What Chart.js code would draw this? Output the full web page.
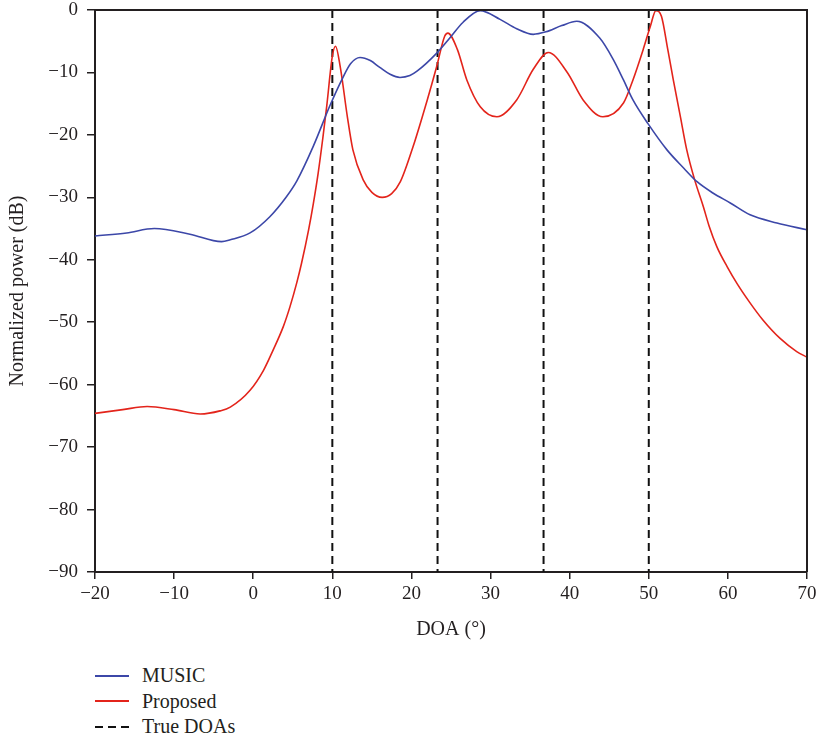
<!DOCTYPE html>
<html>
<head>
<meta charset="utf-8">
<script src="https://cdn.jsdelivr.net/npm/chart.js@4"></script>
<style>
  body { margin: 0; background: #fff; width: 818px; height: 735px; overflow: hidden; }
  #wrap { position: absolute; left: 0; top: 0; width: 818px; height: 650px; }
  #legend { position: absolute; left: 95px; top: 663px; font-family: "Liberation Serif", "DejaVu Serif", serif; font-size: 20px; color: #231f20; }
  .row { height: 25.5px; line-height: 25.5px; display: flex; align-items: center; }
  .swatch { width: 34px; height: 1.6px; margin-right: 13px; }
</style>
</head>
<body>
<div id="wrap"><canvas id="chart"></canvas></div>
<div id="legend"></div>
<script>
// angles (deg) and normalized power (dB)
const musicDeg = [-20, -16, -12.5, -8, -4, -2.9, -0.4, 2.1, 4.2, 5.5, 7.6, 9.7, 11.3, 12.3, 13.5, 14.8, 16.0, 17.3, 18.55, 19.8, 20.7, 23.2, 24.9, 26.5, 28.7, 31.2, 33.3, 35.4, 37, 39, 40.9, 43.8, 45.5, 46.8, 48.0, 49.9, 52.3, 54.4, 56.1, 58.1, 60.3, 62.8, 66.2, 70];
const musicDb = [-36.2, -35.7, -35.0, -35.9, -37.1, -36.8, -35.7, -33.1, -29.9, -27.4, -21.8, -15.3, -10.9, -8.6, -7.6, -8.1, -9.2, -10.3, -10.8, -10.5, -9.8, -6.9, -4.4, -2.0, -0.1, -1.5, -3.0, -3.9, -3.5, -2.5, -1.8, -4.5, -7.9, -11.2, -14.4, -18.2, -22.4, -25.3, -27.5, -29.3, -30.9, -32.8, -34.1, -35.2];

const proposedDeg = [-20, -16.5, -13.4, -10, -6.7, -4.2, -2.9, -0.4, 1.3, 2.5, 3.8, 4.65, 5.5, 6.1, 7.0, 7.6, 8.2, 8.8, 9.3, 10.0, 10.4, 11.0, 11.9, 12.6, 13.9, 15.0, 16.3, 17.5, 18.6, 20.2, 22.0, 23.2, 24.2, 24.6, 25.8, 27.0, 28.7, 30.8, 33.3, 35.4, 37.3, 39.7, 41.7, 44.2, 46.8, 48.0, 49.3, 50.2, 50.9, 51.6, 52.4, 53.1, 54.0, 54.8, 55.8, 56.9, 57.6, 58.6, 59.9, 61.2, 62.8, 64.4, 66.6, 68.7, 70];
const proposedDb = [-64.6, -64.0, -63.5, -64.0, -64.7, -64.2, -63.6, -60.9, -57.7, -54.5, -50.7, -47.5, -43.7, -40.6, -35.2, -31.0, -26.2, -20.5, -15.3, -7.4, -5.8, -9.1, -17.1, -22.4, -27.2, -29.2, -30.0, -29.4, -27.5, -21.9, -14.4, -9.0, -4.2, -3.7, -6.3, -11.2, -15.5, -17.1, -14.4, -9.5, -6.8, -10.0, -14.4, -17.1, -14.9, -11.2, -6.3, -2.6, -0.1, -1.0, -6.3, -11.2, -17.1, -22.4, -27.2, -31.5, -34.5, -37.9, -41.1, -43.9, -46.9, -49.6, -52.6, -54.7, -55.6];

const trueDoas = [10, 23.3, 36.7, 50];

const xMin = -20, xMax = 70, xStep = 10;
const yMin = -90, yMax = 0, yStep = 10;

const fontFamily = '"Liberation Serif", "DejaVu Serif", serif';
const ink = '#231f20';

function toPoints(xs, ys) {
  return xs.map((x, i) => ({ x: x, y: ys[i] }));
}

// one dataset for all dashed lines, split by null gaps
const doaPoints = trueDoas.flatMap(d => [{ x: d, y: yMax }, { x: d, y: yMin }, { x: d, y: null }]);

const frame = {
  id: 'frame',
  afterDraw(chart) {
    const { ctx, chartArea: a } = chart;
    ctx.save();
    ctx.strokeStyle = ink;
    ctx.lineWidth = 2;
    ctx.beginPath();
    ctx.moveTo(a.left, a.top);
    ctx.lineTo(a.right, a.top);
    ctx.lineTo(a.right, a.bottom);
    ctx.stroke();
    ctx.restore();
  }
};

const minus = v => String(v).replace('-', '\u2212');

const chart = new Chart(document.getElementById('chart'), {
  type: 'line',
  data: {
    datasets: [
      {
        label: 'MUSIC',
        data: toPoints(musicDeg, musicDb),
        borderColor: '#3c47a8',
        borderWidth: 1.6,
        pointRadius: 0,
        cubicInterpolationMode: 'monotone'
      },
      {
        label: 'Proposed',
        data: toPoints(proposedDeg, proposedDb),
        borderColor: '#e3241b',
        borderWidth: 1.6,
        pointRadius: 0,
        cubicInterpolationMode: 'monotone'
      },
      {
        label: 'True DOAs',
        data: doaPoints,
        borderColor: '#111',
        borderWidth: 2,
        borderDash: [8, 5],
        pointRadius: 0,
        tension: 0,
        spanGaps: false
      }
    ]
  },
  options: {
    responsive: true,
    maintainAspectRatio: false,
    animation: false,
    layout: { padding: { top: 10, right: 11, left: 0, bottom: 0 } },
    plugins: {
      legend: { display: false },
      tooltip: { enabled: false }
    },
    scales: {
      x: {
        type: 'linear',
        min: xMin,
        max: xMax,
        afterFit: s => { s.height = 78; s.paddingLeft = 0; s.paddingRight = 0; },
        ticks: {
          stepSize: xStep,
          padding: 6,
          color: ink,
          font: { family: fontFamily, size: 19, lineHeight: 1 },
          callback: v => minus(v)
        },
        grid: { drawOnChartArea: false, tickLength: 7, color: ink, lineWidth: 1.5 },
        border: { color: ink, width: 2 },
        title: {
          display: true,
          text: 'DOA (°)',
          color: ink,
          font: { family: fontFamily, size: 20 },
          padding: { top: 0, bottom: 8 }
        }
      },
      y: {
        min: yMin,
        max: yMax,
        afterFit: s => { s.width = 95; s.paddingTop = 0; s.paddingBottom = 0; },
        ticks: {
          stepSize: yStep,
          padding: 9,
          color: ink,
          font: { family: fontFamily, size: 19, lineHeight: 1 },
          callback: v => minus(v)
        },
        grid: { drawOnChartArea: false, tickLength: 8, color: ink, lineWidth: 1.5 },
        border: { color: ink, width: 2 },
        title: {
          display: true,
          text: 'Normalized power (dB)',
          color: ink,
          font: { family: fontFamily, size: 20 },
          padding: { top: 6, bottom: 0 }
        }
      }
    }
  },
  plugins: [frame]
});

// legend below the plot, one entry per row
const legend = document.getElementById('legend');
chart.data.datasets.forEach(ds => {
  const row = document.createElement('div');
  row.className = 'row';
  const sw = document.createElement('span');
  sw.className = 'swatch';
  if (ds.borderDash) {
    sw.style.height = '2px';
    sw.style.background = 'repeating-linear-gradient(to right, #111 0 8px, transparent 8px 13px)';
  } else {
    sw.style.background = ds.borderColor;
  }
  const txt = document.createElement('span');
  txt.textContent = ds.label;
  row.appendChild(sw);
  row.appendChild(txt);
  legend.appendChild(row);
});
</script>
</body>
</html>
